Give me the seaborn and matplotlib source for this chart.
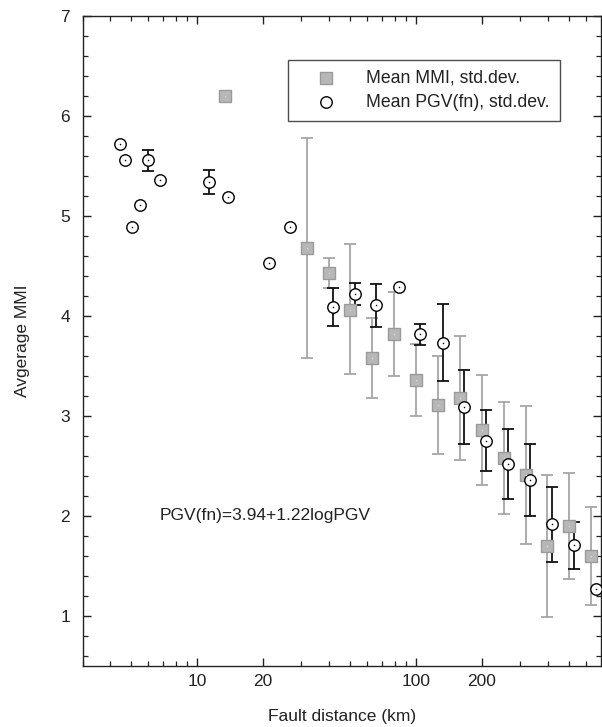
import numpy as np
import pandas as pd
import matplotlib
matplotlib.use("Agg")
import matplotlib.pyplot as plt
import seaborn as sns

# ---- data ----
pgv_dist = [4.46, 4.67, 5.06, 5.46, 6.0, 6.79, 11.4, 13.9, 21.3, 26.5, 42.0, 52.6,
            65.8, 83.5, 105, 133, 166, 210, 264, 333, 419, 528, 665]
pgv_mmi = [5.72, 5.56, 4.89, 5.11, 5.56, 5.36, 5.34, 5.19, 4.53, 4.89, 4.09, 4.22,
           4.11, 4.29, 3.82, 3.73, 3.09, 2.75, 2.52, 2.36, 1.92, 1.71, 1.27]
pgv_low = [np.nan, np.nan, np.nan, np.nan, 5.45, np.nan, 5.22, np.nan, np.nan, np.nan, 3.90, 4.11,
           3.89, np.nan, 3.71, 3.35, 2.72, 2.45, 2.17, 2.00, 1.54, 1.47, np.nan]
pgv_high = [np.nan, np.nan, np.nan, np.nan, 5.66, np.nan, 5.46, np.nan, np.nan, np.nan, 4.28, 4.33,
            4.32, np.nan, 3.92, 4.12, 3.46, 3.06, 2.87, 2.72, 2.29, 1.94, np.nan]

mmi_dist = [13.4, 31.9, 40.1, 50.2, 63.3, 79.8, 100.2, 126, 159, 200, 252, 317, 399, 501, 631]
mmi_mean = [6.20, 4.68, 4.43, 4.06, 3.58, 3.82, 3.36, 3.11, 3.18, 2.86, 2.58, 2.41, 1.70, 1.90, 1.60]
mmi_low = [np.nan, 3.58, 4.28, 3.42, 3.18, 3.40, 3.00, 2.62, 2.56, 2.31, 2.02, 1.72, 0.99, 1.37, 1.11]
mmi_high = [np.nan, 5.78, 4.58, 4.72, 3.98, 4.24, 3.72, 3.60, 3.80, 3.41, 3.14, 3.10, 2.41, 2.43, 2.09]

x_ticks = [10, 20, 100, 200]
x_ticklabels = ["10", "20", "100", "200"]
y_ticks = [1, 2, 3, 4, 5, 6, 7]

pgv = pd.DataFrame({"dist": pgv_dist, "mmi": pgv_mmi, "lo": pgv_low, "hi": pgv_high})
mmi = pd.DataFrame({"dist": mmi_dist, "mmi": mmi_mean, "lo": mmi_low, "hi": mmi_high})

sns.set_style("ticks")
plt.rcParams["font.family"] = ["Liberation Sans", "DejaVu Sans"]
txt = "#222222"

fig = plt.figure(figsize=(6.02, 7.27), dpi=100)
ax = fig.add_axes([0.1372, 0.0843, 0.8608, 0.8941])

sq_face = "#b7b7b7"
sq_edge = "#9a9a9a"
gray_err = "#a6a6a6"

# error bars MMI (gray)
m = mmi.dropna()
ax.errorbar(m["dist"], m["mmi"], yerr=[m["mmi"] - m["lo"], m["hi"] - m["mmi"]],
            fmt="none", ecolor=gray_err, elinewidth=1.3, capsize=4, capthick=1.3, zorder=1)
# error bars PGV (black)
p = pgv.dropna()
ax.errorbar(p["dist"], p["mmi"], yerr=[p["mmi"] - p["lo"], p["hi"] - p["mmi"]],
            fmt="none", ecolor="#111111", elinewidth=1.3, capsize=4, capthick=1.3, zorder=2)

sns.scatterplot(data=mmi, x="dist", y="mmi", marker="s", s=85, color=sq_face,
                edgecolor=sq_edge, linewidth=1.0, ax=ax, zorder=3,
                label="Mean MMI, std.dev.")
sns.scatterplot(data=pgv, x="dist", y="mmi", marker="o", s=68, color="white",
                edgecolor="black", linewidth=1.0, ax=ax, zorder=4,
                label="Mean PGV(fn), std.dev.")
# centre dots
ax.scatter(pgv["dist"], pgv["mmi"], s=1.2, color="black", zorder=5, linewidths=0)
ax.scatter(mmi["dist"], mmi["mmi"], s=1.0, color="#dddddd", zorder=5, linewidths=0)

ax.set_xscale("log")
ax.set_xlim(3, 700)
ax.set_ylim(0.5, 7)
ax.set_xticks(x_ticks)
ax.set_xticklabels(x_ticklabels)
ax.set_xticks([3, 4, 5, 6, 7, 8, 9, 30, 40, 50, 60, 70, 80, 90, 300, 400, 500, 600], minor=True)
ax.xaxis.set_minor_formatter(matplotlib.ticker.NullFormatter())
ax.set_yticks(y_ticks)
ax.set_yticks(np.arange(0.6, 7.0, 0.2), minor=True)

for s in ax.spines.values():
    s.set_visible(True)
    s.set_linewidth(1.0)
    s.set_color("#222222")

ax.tick_params(which="both", direction="in", top=True, right=True, colors="#222222",
               labelcolor=txt, labelsize=12.5)
ax.tick_params(which="major", length=6, width=1.0)
ax.tick_params(which="minor", length=3.5, width=0.9)
ax.tick_params(axis="y", which="major", pad=9)
ax.tick_params(axis="x", which="major", pad=6)

ax.set_xlabel("Fault distance (km)", fontsize=12.5, color=txt)
ax.set_ylabel("Avgerage MMI", fontsize=12.5, color=txt)
ax.xaxis.set_label_coords(0.5, -0.066)
ax.xaxis.label.set_va("top")
ax.yaxis.set_label_coords(-0.101, 0.5)

ax.text(0.148, 0.231, "PGV(fn)=3.94+1.22logPGV", transform=ax.transAxes,
        fontsize=12.5, color=txt, ha="left", va="center")

leg = ax.legend(loc="upper left", bbox_to_anchor=(0.397, 0.932), borderaxespad=0,
                fontsize=12.7, frameon=True, fancybox=False, edgecolor="#222222",
                handletextpad=0.66, borderpad=0.55, labelspacing=0.42, handlelength=3.22,
                markerscale=1.0)
leg.get_frame().set_linewidth(1.0)
for t in leg.get_texts():
    t.set_color(txt)

fig.savefig("out.png", dpi=100)
